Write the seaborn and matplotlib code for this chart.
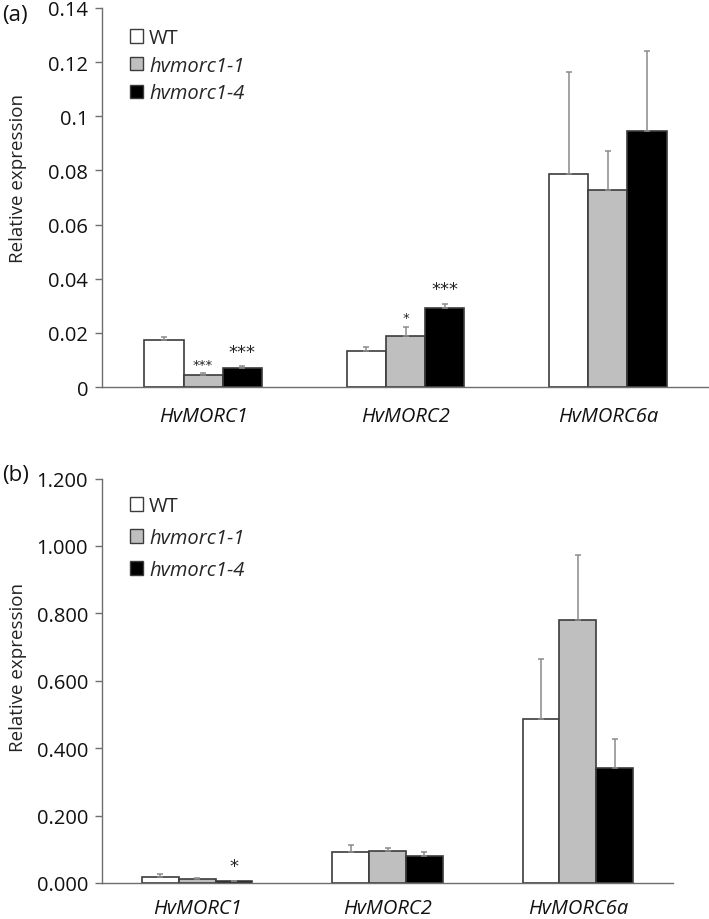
import numpy as np
import pandas as pd
import matplotlib
matplotlib.use("Agg")
import matplotlib.pyplot as plt
import matplotlib.patches as mpatches
import seaborn as sns

# ---- data ----
genes = ["HvMORC1", "HvMORC2", "HvMORC6a"]
genotypes = ["WT", "hvmorc1-1", "hvmorc1-4"]
colors = ["#ffffff", "#bfbfbf", "#000000"]

# panel (a)
a_wt = [0.0175, 0.0134, 0.0787]
a_m11 = [0.0046, 0.0190, 0.0729]
a_m14 = [0.0070, 0.0292, 0.0944]
a_wt_err = [0.0008, 0.0015, 0.0375]
a_m11_err = [0.0004, 0.0031, 0.0144]
a_m14_err = [0.0006, 0.0015, 0.0296]
a_m11_sig = ["***", "*", ""]
a_m14_sig = ["***", "***", ""]
a_yticks = [0, 0.02, 0.04, 0.06, 0.08, 0.1, 0.12, 0.14]

# panel (b)
b_wt = [0.019, 0.091, 0.486]
b_m11 = [0.012, 0.095, 0.780]
b_m14 = [0.006, 0.079, 0.342]
b_wt_err = [0.007, 0.021, 0.180]
b_m11_err = [0.002, 0.009, 0.193]
b_m14_err = [0.001, 0.013, 0.084]
b_m11_sig = ["", "", ""]
b_m14_sig = ["*", "", ""]
b_yticks = [0, 0.2, 0.4, 0.6, 0.8, 1.0, 1.2]


def long_df(wt, m11, m14):
    rows = []
    for g, vals in zip(genotypes, [wt, m11, m14]):
        for gene, v in zip(genes, vals):
            rows.append({"gene": gene, "genotype": g, "value": v})
    return pd.DataFrame(rows)


sns.set_theme(style="white")
plt.rcParams["font.family"] = ["Open Sans", "DejaVu Sans"]

fig = plt.figure(figsize=(7.09, 9.20), dpi=100)
W, H = 709, 920
ax_a = fig.add_axes([102 / W, 1 - 388 / H, 607 / W, 379 / H])
ax_b = fig.add_axes([102 / W, 1 - 884 / H, 571 / W, 404.5 / H])

spine_col = "#6e6e6e"
edge_col = "#3c3c3c"
err_col = "#8a8a8a"


def draw_panel(ax, df, errs, sigs, yticks, fmt, leg_anchor, leg_spacing, star_small, xpad):
    sns.barplot(data=df, x="gene", y="value", hue="genotype", hue_order=genotypes,
                order=genes, palette=colors, edgecolor=edge_col, linewidth=1.2,
                width=0.58, errorbar=None, legend=False, ax=ax)
    for cont, err, sig, gi in zip(ax.containers, errs, sigs, range(3)):
        for bar, e, s in zip(cont, err, sig):
            x = bar.get_x() + bar.get_width() / 2
            y = bar.get_height()
            ax.errorbar(x, y, yerr=[[0], [e]], fmt="none", ecolor=err_col,
                        elinewidth=1.1, capsize=2.5, capthick=1.1, zorder=1)
            if s:
                small = star_small and gi == 1
                ax.annotate(s, (x, y + e), xytext=(0, 2 if small else 4),
                            textcoords="offset points", ha="center", va="bottom",
                            fontsize=9.5 if small else 13, family="DejaVu Sans",
                            color="#222222")
    ax.set_xlim(-0.5, 2.5)
    ax.set_ylim(yticks[0], yticks[-1])
    ax.set_yticks(yticks)
    ax.set_yticklabels([fmt(v) for v in yticks])
    ax.set_xlabel("")
    ax.set_ylabel("Relative expression", fontsize=13.5, color="#222222")
    for side in ["top", "right"]:
        ax.spines[side].set_visible(False)
    for side in ["left", "bottom"]:
        ax.spines[side].set_color(spine_col)
        ax.spines[side].set_linewidth(1.0)
    ax.tick_params(axis="y", which="major", left=True, length=5, width=1.0,
                   color=spine_col, pad=5, labelsize=14.5, labelcolor="#111111")
    ax.tick_params(axis="x", bottom=False, pad=xpad, labelsize=14.5, labelcolor="#111111")
    for t in ax.get_xticklabels():
        t.set_style("italic")
    handles = [mpatches.Patch(facecolor=c, edgecolor=edge_col, linewidth=1.0) for c in colors]
    leg = ax.legend(handles, genotypes, loc="upper left", bbox_to_anchor=leg_anchor,
                    frameon=False, fontsize=14.5, handlelength=0.65, handleheight=0.65,
                    handletextpad=0.3, labelspacing=leg_spacing, borderaxespad=0)
    for t in leg.get_texts()[1:]:
        t.set_style("italic")


draw_panel(ax_a, long_df(a_wt, a_m11, a_m14), [a_wt_err, a_m11_err, a_m14_err],
           [["", "", ""], a_m11_sig, a_m14_sig], a_yticks, lambda v: f"{v:g}",
           (20 / 607, 1 - 12 / 379), 0.38, True, 8)
draw_panel(ax_b, long_df(b_wt, b_m11, b_m14), [b_wt_err, b_m11_err, b_m14_err],
           [["", "", ""], b_m11_sig, b_m14_sig], b_yticks, lambda v: f"{v:.3f}",
           (20 / 571, 1 - 9.5 / 404.5), 0.6, False, 5)

ax_a.yaxis.set_label_coords(-75 / 607, 0.554)
ax_b.yaxis.set_label_coords(-75 / 571, 0.534)

fig.text(2 / W, 1 - 16 / H, "(a)", fontsize=16, va="center", ha="left", color="#111111")
fig.text(2 / W, 1 - 476 / H, "(b)", fontsize=16, va="center", ha="left", color="#111111")

fig.savefig("out.png", dpi=100, facecolor="white")
